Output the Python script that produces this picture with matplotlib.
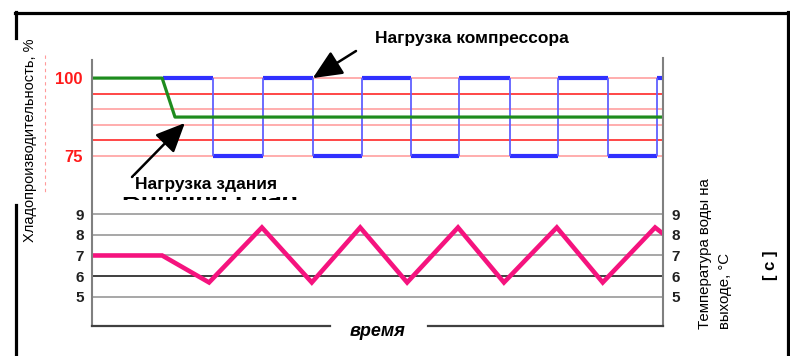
import numpy as np
import matplotlib
matplotlib.use('Agg')
import matplotlib.pyplot as plt
from matplotlib.lines import Line2D
from matplotlib.patches import Rectangle

plt.rcParams['font.family'] = ['Liberation Sans', 'DejaVu Sans']

W, H = 790, 356

# compressor load (%): switching times and level after each switch
comp_t = [14.4, 24.5, 34.6, 44.7, 54.7, 64.6, 74.3, 84.6, 94.3, 104.5, 114.4, 115.6]
comp_v = [100, 75, 100, 75, 100, 75, 100, 75, 100, 75, 100]
# building load (%)
build_t = [0, 14.2, 16.8, 115.6]
build_v = [100, 100, 87.5, 87.5]
# leaving water temperature (°C)
water_t = [0, 14.2, 23.7, 34.4, 44.5, 54.3, 63.8, 74.1, 83.4, 94.1, 103.4, 114.0, 115.6]
water_v = [7, 7, 5.7, 8.35, 5.7, 8.35, 5.7, 8.35, 5.7, 8.35, 5.7, 8.35, 8.05]

grid_top = [100, 95, 90, 85, 80, 75]
grid_top_col = ['#ffa0a0', '#ff2828', '#ffa0a0', '#ffa0a0', '#ff2828', '#ffa0a0']
grid_bot = [9, 8, 7, 6, 5]
grid_bot_col = ['#a0a0a0', '#a0a0a0', '#a0a0a0', '#303030', '#a0a0a0']


def fline(x0, y0, x1, y1, **kw):
    # line in figure pixels, y measured from top
    fig.add_artist(Line2D([x0 / W, x1 / W], [1 - y0 / H, 1 - y1 / H],
                          transform=fig.transFigure, **kw))


def ftext(x, y, s, **kw):
    return fig.text(x / W, 1 - y / H, s, **kw)


fig = plt.figure(figsize=(W / 100, H / 100), dpi=100)
ax1 = fig.add_axes([92 / W, (H - 200) / H, 571 / W, 140 / H])
ax2 = fig.add_axes([92 / W, (H - 326) / H, 571 / W, 126 / H])

for ax in (ax1, ax2):
    for s in ax.spines.values():
        s.set_visible(False)
    ax.set_xticks([])
    ax.set_xlim(0, 115.6)
    ax.patch.set_alpha(0)

# top panel
for g, c in zip(grid_top, grid_top_col):
    ax1.axhline(g, color=c, lw=1.2, zorder=1)
ax1.hlines(comp_v, comp_t[:-1], comp_t[1:], color='#3030ff', lw=3.0, zorder=3)
ax1.vlines(comp_t[1:-1], 75, 100, color='#6060ff', lw=1.3, zorder=3)
ax1.plot(build_t, build_v, color='#1e8c1e', lw=2.3, zorder=4)
ax1.set_ylim(60.9, 105.8)
ax1.set_yticks([75, 100])
ax1.set_yticklabels(['75', '100'], color='#ff1a1a', fontsize=12, fontweight='bold')
ax1.tick_params(axis='y', length=0, pad=7)

# bottom panel
for g, c in zip(grid_bot, grid_bot_col):
    ax2.axhline(g, color=c, lw=1.3, zorder=1)
ax2.plot(water_t, water_v, color='#f5137e', lw=3.3, zorder=3, solid_joinstyle='miter')
ax2.set_ylim(3.6, 9.675)
ax2.set_yticks(grid_bot)
ax2.set_yticklabels([str(g) for g in grid_bot], fontsize=11, fontweight='bold', color='#202020')
ax2.tick_params(axis='y', length=0, pad=6, labelright=True)

# axis frame lines
fline(92, 60, 92, 326, color='#808080', lw=1.5)
fline(663, 58, 663, 326, color='#808080', lw=1.5)
fline(92, 326, 330, 326, color='#404040', lw=1.6)
fline(428, 326, 663, 326, color='#404040', lw=1.6)

# outer border
fline(15, 13, 788, 13, color='black', lw=2.3)
fline(788, 12, 788, 356, color='black', lw=2.3)
fline(16, 12, 16, 38, color='black', lw=2.3)
fline(16, 205, 16, 356, color='black', lw=2.3)
fline(45, 55, 45, 195, color='#ff9a9a', lw=0.8, ls=(0, (3, 3)))

# labels
ftext(30, 140, 'Хладопроизводительность, %', rotation=90, ha='center', va='center',
      fontsize=10.5)
ftext(715, 329, 'Температура воды на\nвыходе, °C', rotation=90, ha='center', va='bottom',
      multialignment='left', fontsize=10.8, linespacing=1.5)
ftext(770, 265, '[ c ]', rotation=90, ha='center', va='center', fontsize=12,
      fontweight='bold')
ftext(378, 331, 'время', ha='center', va='center', fontsize=13, fontweight='bold',
      fontstyle='italic')

# ghost text partly hidden under the label
ghost = ftext(210, 188, 'Building Load', ha='center', va='top', fontsize=19,
              fontweight='bold')
ghost.set_clip_path(Rectangle((100 / W, 1 - 200 / H), 220 / W, 3 / H,
                              transform=fig.transFigure))

ftext(472, 39, 'Нагрузка компрессора', ha='center', va='center', fontsize=12.5,
      fontweight='bold')
ftext(206, 185, 'Нагрузка здания', ha='center', va='center', fontsize=12.5,
      fontweight='bold', bbox=dict(facecolor='white', edgecolor='none', pad=1))

arrow = dict(arrowstyle='-|>,head_length=1.0,head_width=0.45', color='black', lw=1.8,
             mutation_scale=18, shrinkA=0, shrinkB=0)
ax1.annotate('', xy=(44.7, 100), xycoords='data', xytext=(356, H - 51),
             textcoords='figure pixels', arrowprops=arrow)
ax1.annotate('', xy=(18.8, 85.6), xycoords='data', xytext=(132, H - 177),
             textcoords='figure pixels', arrowprops=arrow)

plt.savefig('out.png', dpi=100)
